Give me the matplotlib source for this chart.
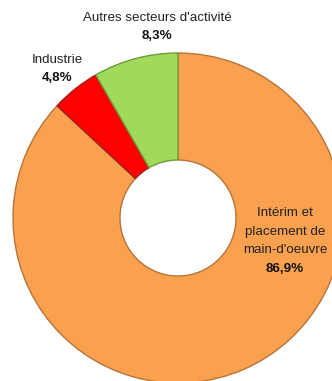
import matplotlib
matplotlib.use("Agg")
import matplotlib.pyplot as plt

# parts of the total, clockwise from 12 o'clock
labels = ["Intérim et\nplacement de\nmain-d'oeuvre", "Industrie", "Autres secteurs d'activité"]
shares = [86.9, 4.8, 8.3]
colors = ["#F9A14F", "#FF0000", "#A0DA5A"]
edges = ["#B8733A", "#A02020", "#6E9A3A"]

plt.rcParams['font.family'] = ['Liberation Sans', 'DejaVu Sans']

fig = plt.figure(figsize=(3.32, 3.81), dpi=100)
ax = fig.add_axes([0, 0, 1, 1])

wedges, _ = ax.pie(shares, colors=colors, startangle=90, counterclock=False,
                   radius=165, center=(178, 163),
                   wedgeprops=dict(width=107, linewidth=1.0))
for w, ec in zip(wedges, edges):
    w.set_edgecolor(ec)

ax.set_xlim(0, 332)
ax.set_ylim(0, 381)
ax.set_aspect('equal')
ax.axis('off')

def pct(v):
    return f"{v:.1f}%".replace(".", ",")

# label block centres in pixels from the top-left corner
pos = [(285, 241), (57, 69), (157, 27)]
step = 18.7
for name, v, (x, y) in zip(labels, shares, pos):
    lines = name.split("\n") + [pct(v)]
    n = len(lines)
    top = y - (n - 1) * step / 2
    for i, ln in enumerate(lines):
        bold = i == n - 1
        ax.text(x, 381 - (top + i * step), ln, ha='center', va='center',
                fontsize=9.6, fontweight='bold' if bold else 'normal',
                color='#111111' if bold else '#222222')

fig.savefig("out.png", dpi=100)
